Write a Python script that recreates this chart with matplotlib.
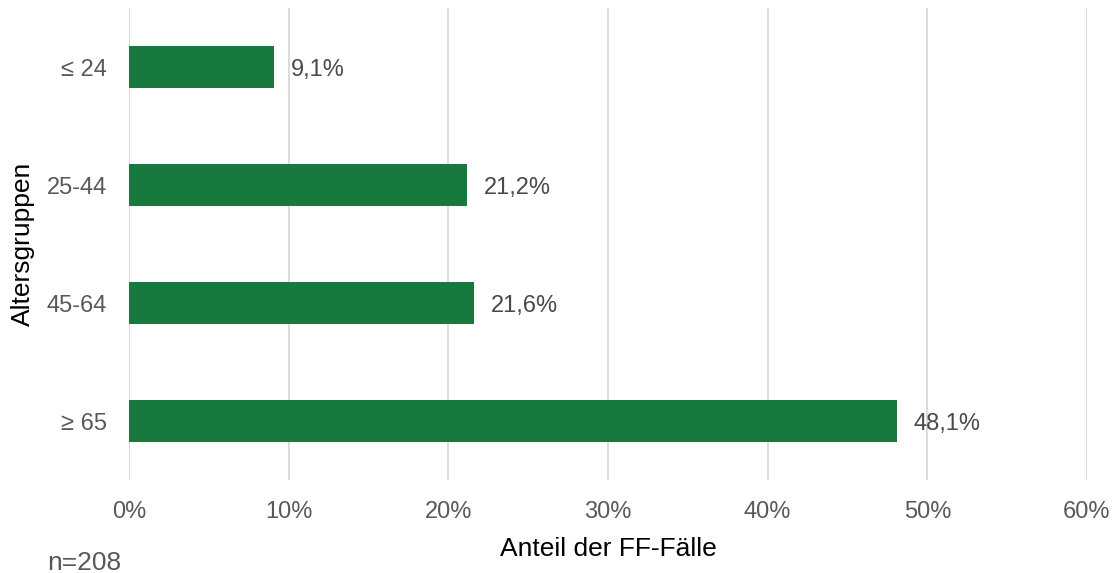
import matplotlib
matplotlib.use("Agg")
import matplotlib.pyplot as plt
from matplotlib.ticker import FuncFormatter

categories = ["≤ 24", "25-44", "45-64", "≥ 65"]
values = [9.1, 21.2, 21.6, 48.1]
xticks = [0, 10, 20, 30, 40, 50, 60]

plt.rcParams['font.family'] = ['Liberation Sans', 'DejaVu Sans']

fig = plt.figure(figsize=(11.15, 5.73), dpi=100)
ax = fig.add_axes([129/1115, 1-480/573, (1087-129)/1115, (480-8)/573])

green = "#17793D"
ypos = list(range(len(categories)))
ax.barh(ypos, values, height=0.35, color=green, zorder=3)
for y, v in zip(ypos, values):
    ax.annotate(f"{v:.1f}%".replace(".", ","), (v, y), xytext=(12, -2.5),
                textcoords="offset points", va="center", ha="left",
                fontsize=17, color="#4a4a4a")

ax.set_xlim(0, 60)
ax.set_ylim(3.5, -0.5)
ax.set_yticks(ypos)
ax.set_yticklabels(categories)
ax.set_xticks(xticks)
ax.xaxis.set_major_formatter(FuncFormatter(lambda x, p: f"{x:.0f}%"))
ax.grid(axis="x", color="#D9D9D9", linewidth=1.3, zorder=0)
ax.tick_params(axis="both", length=0, labelsize=17, labelcolor="#595959")
ax.tick_params(axis="x", pad=15)
ax.tick_params(axis="y", pad=16)
for s in ax.spines.values():
    s.set_visible(False)
ax.set_xlabel("Anteil der FF-Fälle", fontsize=19, color="black", labelpad=10)
ax.set_ylabel("Altersgruppen", fontsize=19, color="black", labelpad=8)
fig.text(47/1115, 1-563/573, "n=208", fontsize=19, color="#595959", va="center", ha="left")

fig.savefig("out.png", dpi=100)
